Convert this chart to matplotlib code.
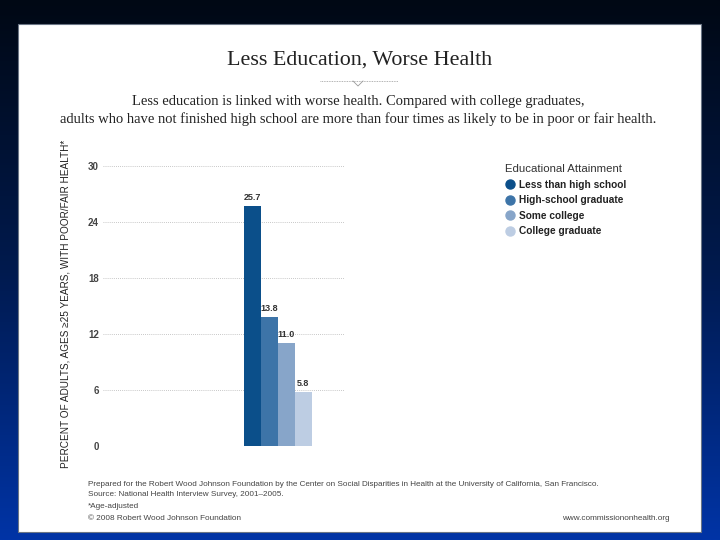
import numpy as np
import matplotlib
matplotlib.use("Agg")
import matplotlib.pyplot as plt
from matplotlib.patches import Rectangle
from matplotlib.lines import Line2D

# ----------------------------- data -----------------------------
categories = ["Less than high school", "High-school graduate", "Some college", "College graduate"]
values = [25.7, 13.8, 11.0, 5.8]
value_labels = ["25.7", "13.8", "11.0", "5.8"]
colors = ["#0b4f8a", "#3d74a8", "#87a5c9", "#bdcde3"]
yticks = [0, 6, 12, 18, 24, 30]

title = "Less Education, Worse Health"
subtitle = ("Less education is linked with worse health. Compared with college graduates,\n"
            "adults who have not finished high school are more than four times as likely to be in poor or fair health.")
ylabel = "PERCENT OF ADULTS, AGES \u226525 YEARS, WITH POOR/FAIR HEALTH*"
legend_title = "Educational Attainment"
footer_lines = [
    "Prepared for the Robert Wood Johnson Foundation by the Center on Social Disparities in Health at the University of California, San Francisco.",
    "Source: National Health Interview Survey, 2001\u20132005.",
    "*Age-adjusted",
    "\u00a9 2008 Robert Wood Johnson Foundation",
]
footer_url = "www.commissiononhealth.org"

W, H = 720, 540
SANS = ["Liberation Sans", "DejaVu Sans"]
SERIF = ["Liberation Serif", "DejaVu Serif"]


def fx(px):
    return px / W


def fy(py):
    return 1 - py / H


fig = plt.figure(figsize=(7.2, 5.4), dpi=100)

# slide background: dark navy gradient
bg = fig.add_axes([0, 0, 1, 1], zorder=-10)
grad = np.linspace(0, 1, 256).reshape(-1, 1)
cmap = matplotlib.colors.LinearSegmentedColormap.from_list("slide", ["#000814", "#001a4e", "#0034a6"])
bg.imshow(grad, aspect="auto", cmap=cmap, extent=[0, 1, 0, 1], origin="upper")
bg.set_axis_off()

# white panel
fig.patches.append(Rectangle((fx(18), fy(532)), fx(701 - 18), (532 - 24) / H,
                             transform=fig.transFigure, facecolor="white",
                             edgecolor="#6a7585", linewidth=0.8, zorder=-5))

# title block
fig.text(fx(360), fy(60), title, ha="center", va="center", family=SERIF, fontsize=15.8, color="#222222")
fig.add_artist(Line2D([fx(320), fx(398)], [fy(81), fy(81)], transform=fig.transFigure,
                      color="#999999", lw=0.6, ls=(0, (1, 1))))
fig.add_artist(Line2D([fx(353), fx(358), fx(363)], [fy(81), fy(86), fy(81)], transform=fig.transFigure,
                      color="#999999", lw=0.6))
fig.text(fx(358), fy(110.5), subtitle, ha="center", va="center", family=SERIF, fontsize=10.5,
         color="#222222", linespacing=1.45)

# chart
ax = fig.add_axes([fx(103), fy(446), fx(345 - 103), (446 - 166) / H])
x = np.arange(len(values))
ax.bar(x, values, width=1.0, color=colors, zorder=3)
for xi, v, lab in zip(x, values, value_labels):
    ax.text(xi, v + 0.45, lab, ha="center", va="bottom", family=SANS, fontsize=6.5,
            fontweight="bold", color="#333333", zorder=4)

ax.set_xlim(-8.8, 5.45)
ax.set_ylim(0, 30)
ax.set_yticks(yticks)
ax.set_yticklabels([str(t) for t in yticks], family=SANS, fontsize=7, fontweight="bold", color="#444444")
ax.set_xticks([])
ax.tick_params(axis="y", length=0, pad=3)
ax.yaxis.grid(True, color="#b5b5b5", lw=0.6, ls=(0, (1, 1.5)), zorder=0)
ax.set_axisbelow(True)
for s in ax.spines.values():
    s.set_visible(False)
ax.patch.set_alpha(0)

fig.text(fx(66), fy(304), ylabel, rotation=90, ha="center", va="center",
         family=SANS, fontsize=7.2, color="#222222")

# legend
handles = [Line2D([], [], ls="none", marker="o", markersize=6.5, color=c) for c in colors]
leg = fig.legend(handles, categories, loc="upper left", bbox_to_anchor=(fx(505), fy(164)),
                 title=legend_title, frameon=False, handletextpad=0.35, handlelength=1.0,
                 labelspacing=0.55, borderaxespad=0, borderpad=0, alignment="left",
                 prop={"family": SANS, "size": 7.3, "weight": "bold"},
                 title_fontproperties={"family": SANS, "size": 8.2})
for t in leg.get_texts():
    t.set_color("#222222")
leg.get_title().set_color("#333333")

# footer
footer_y = [484, 494, 506, 519]
for line, yy in zip(footer_lines, footer_y):
    fig.text(fx(88), fy(yy), line, ha="left", va="center", family=SANS, fontsize=5.9, color="#444444")
fig.text(fx(670), fy(519), footer_url, ha="right", va="center", family=SANS, fontsize=5.9, color="#444444")

fig.savefig("out.png", dpi=100)
